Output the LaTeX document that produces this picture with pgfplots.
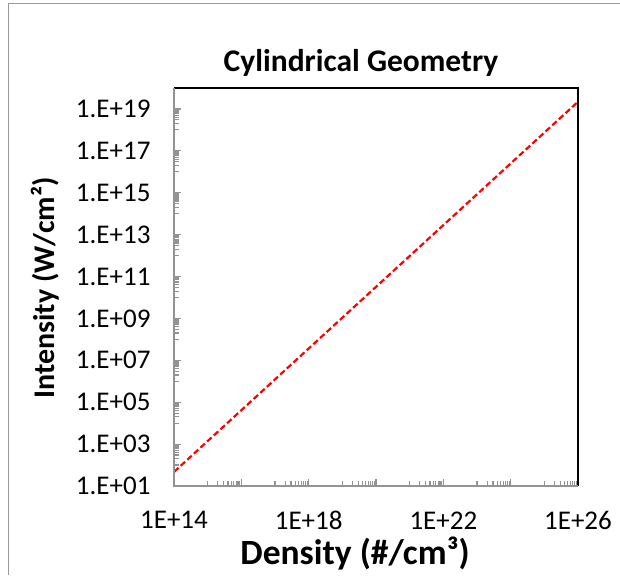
\documentclass[border=0pt]{standalone}
\usepackage{fontspec}
\setmainfont{Carlito}
\usepackage{pgfplots}
\pgfplotsset{compat=1.18}
\begin{document}
\begin{tikzpicture}[x=1pt,y=1pt]
\useasboundingbox (0,0) rectangle (620,575);
\draw[gray!80, line width=1.5pt] (8.5,0) -- (8.5,571.5) -- (620,571.5);
\begin{axis}[
  at={(174pt,89pt)}, anchor=south west,
  width=404pt, height=398pt, scale only axis,
  xmode=log, ymode=log,
  xmin=1e14, xmax=1e26, ymin=1e1, ymax=1e20,
  axis line style={draw=none},
  xtick={1e14,1e16,1e18,1e20,1e22,1e24,1e26},
  xticklabels={1E+14,,1E+18,,1E+22,,1E+26},
  ytick={1e1,1e3,1e5,1e7,1e9,1e11,1e13,1e15,1e17,1e19},
  yticklabels={1.E+01,1.E+03,1.E+05,1.E+07,1.E+09,1.E+11,1.E+13,1.E+15,1.E+17,1.E+19},
  minor xtick={1e15,2e15,3e15,4e15,5e15,6e15,7e15,8e15,9e15,
               1e17,2e17,3e17,4e17,5e17,6e17,7e17,8e17,9e17,
               1e19,2e19,3e19,4e19,5e19,6e19,7e19,8e19,9e19,
               1e21,2e21,3e21,4e21,5e21,6e21,7e21,8e21,9e21,
               1e23,2e23,3e23,4e23,5e23,6e23,7e23,8e23,9e23,
               1e25,2e25,3e25,4e25,5e25,6e25,7e25,8e25,9e25},
  minor ytick={1e2,2e2,3e2,4e2,5e2,6e2,7e2,8e2,9e2,
               1e4,2e4,3e4,4e4,5e4,6e4,7e4,8e4,9e4,
               1e6,2e6,3e6,4e6,5e6,6e6,7e6,8e6,9e6,
               1e8,2e8,3e8,4e8,5e8,6e8,7e8,8e8,9e8,
               1e10,2e10,3e10,4e10,5e10,6e10,7e10,8e10,9e10,
               1e12,2e12,3e12,4e12,5e12,6e12,7e12,8e12,9e12,
               1e14,2e14,3e14,4e14,5e14,6e14,7e14,8e14,9e14,
               1e16,2e16,3e16,4e16,5e16,6e16,7e16,8e16,9e16,
               1e18,2e18,3e18,4e18,5e18,6e18,7e18,8e18,9e18},
  tick align=inside,
  xtick pos=bottom, ytick pos=left,
  major tick length=7pt, minor tick length=5pt,
  tick style={draw=gray!85, line width=1.2pt},
  minor tick style={draw=gray!85, line width=1.2pt},
  tick label style={font=\fontsize{27}{32}\selectfont, text=black},
  /pgf/number format/assume math mode=true,
  xticklabel style={yshift=-22pt},
  yticklabel style={xshift=-20pt},
  clip=false,
]
\addplot[red, line width=2.2pt, dash pattern=on 6pt off 3pt] coordinates {(1e14,47) (1e26,2.2e19)};
\draw[black, line width=2pt] (rel axis cs:0,1) -- (rel axis cs:1,1) -- (rel axis cs:1,0);
\draw[gray!85, line width=2pt] (rel axis cs:0,1) -- (rel axis cs:0,0) -- (rel axis cs:1,0);
\end{axis}
\node[font=\bfseries\fontsize{31.5}{36}\selectfont] at (361,512) {Cylindrical Geometry};
\node[font=\bfseries\fontsize{30}{36}\selectfont, rotate=90] at (45,287) {Intensity (W/cm²)};
\node[font=\bfseries\fontsize{35.5}{40}\selectfont] at (355,22) {Density (\#/cm³)};
\end{tikzpicture}
\end{document}
